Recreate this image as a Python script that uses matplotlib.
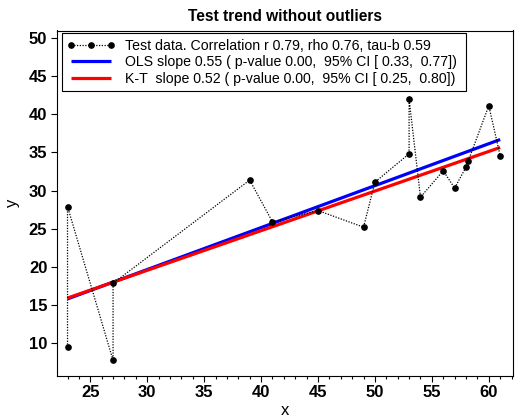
import numpy as np
import matplotlib
matplotlib.use("Agg")
import matplotlib.pyplot as plt
from matplotlib.ticker import MultipleLocator

plt.rcParams['font.family'] = ['Liberation Sans', 'DejaVu Sans']

x_vals = [23, 23, 27, 27, 39, 41, 45, 49, 50, 53, 53, 54, 56, 57, 58, 58.2, 60, 61]
y_vals = [9.42, 27.9, 7.71, 17.83, 31.37, 25.89, 27.37, 25.19, 31.1, 34.82, 42.0,
          29.13, 32.59, 30.32, 33.07, 33.9, 41.13, 34.56]

kt_slope = 0.52  # Kendall-Theil slope as stated in the legend

title = "Test trend without outliers"
label_data = "Test data. Correlation r 0.79, rho 0.76, tau-b 0.59"
label_ols = "OLS slope 0.55 ( p-value 0.00,  95% CI [ 0.33,  0.77]) "
label_kt = "K-T  slope 0.52 ( p-value 0.00,  95% CI [ 0.25,  0.80]) "

x = np.array(x_vals, dtype=float)
y = np.array(y_vals, dtype=float)

# OLS fit
b_ols, a_ols = np.polyfit(x, y, 1)
# Kendall-Theil line: median-based intercept
a_kt = np.median(y) - kt_slope * np.median(x)

xl = np.array([x.min(), x.max()])

fig = plt.figure(figsize=(5.18, 4.2), dpi=100)
ax = fig.add_axes([56.7 / 518, 1 - 375.7 / 420, (512.7 - 56.7) / 518, (375.7 - 30.5) / 420])

h_ols, = ax.plot(xl, a_ols + b_ols * xl, color='#0000ff', lw=2.3, zorder=2, solid_capstyle='butt')
h_kt, = ax.plot(xl, a_kt + kt_slope * xl, color='#ff0000', lw=2.3, zorder=3, solid_capstyle='butt')
h_dat, = ax.plot(x, y, color='black', lw=0.9, ls=(0, (1, 1.2)), marker='o', ms=3.8,
                 markerfacecolor='black', markeredgecolor='black', zorder=4)

ax.set_xlim(22.05, 62.1)
ax.set_ylim(5.7, 51.0)
ax.xaxis.set_major_locator(MultipleLocator(5))
ax.xaxis.set_minor_locator(MultipleLocator(1))
ax.yaxis.set_major_locator(MultipleLocator(5))

for s in ax.spines.values():
    s.set_linewidth(0.8)
ax.tick_params(axis='both', which='major', length=4.3, width=0.8, pad=2.5,
               labelsize=12, direction='out')
ax.tick_params(axis='x', which='minor', length=2.2, width=0.8, direction='out')
for lab in ax.get_xticklabels() + ax.get_yticklabels():
    lab.set_fontweight('bold')

ax.set_xlabel('x', fontsize=12, labelpad=2)
ax.set_ylabel('y', fontsize=12, labelpad=6)
ax.set_title(title, fontsize=11.2, fontweight='bold', pad=7)

leg = ax.legend([h_dat, h_ols, h_kt], [label_data, label_ols, label_kt],
                loc='upper left', bbox_to_anchor=(0.011, 0.992), fontsize=10.2,
                numpoints=3, handlelength=3.4, handletextpad=0.68,
                labelspacing=0.17, borderpad=0.39, borderaxespad=0,
                fancybox=False, framealpha=1, edgecolor='black')
leg.get_frame().set_linewidth(0.8)

fig.savefig('out.png', dpi=100)
